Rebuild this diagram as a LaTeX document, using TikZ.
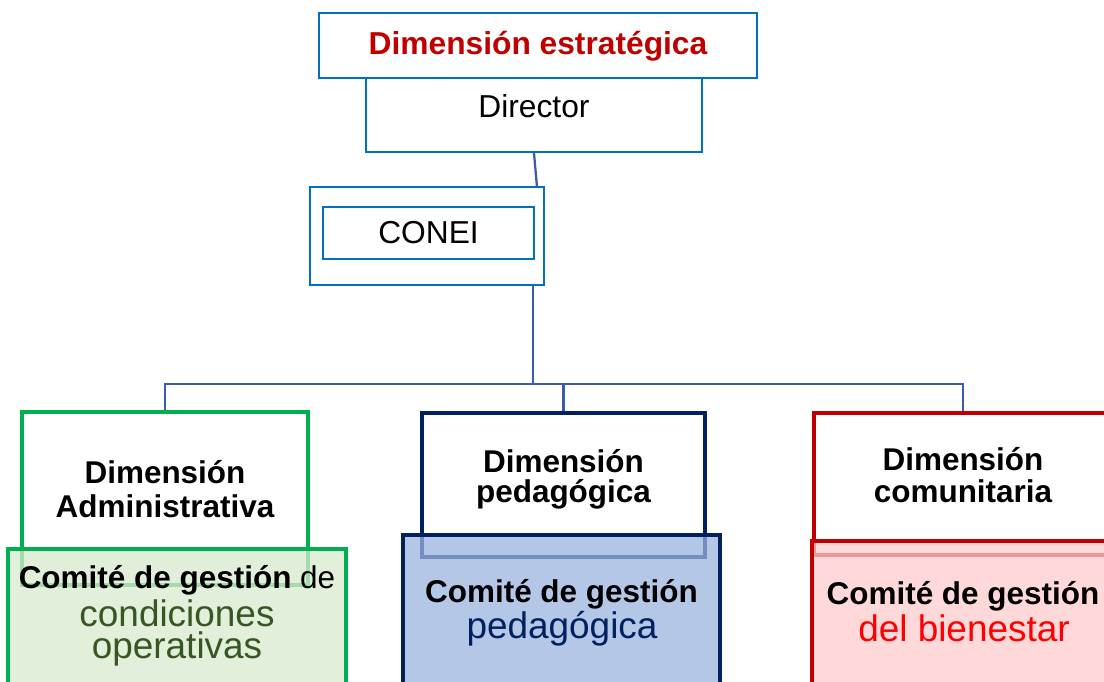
\documentclass[tikz,border=0pt]{standalone}
\usepackage{fontspec}
\setmainfont{Liberation Sans}
\usetikzlibrary{fit}
\definecolor{boxblue}{HTML}{0070C0}
\definecolor{linkblue}{HTML}{3B5DA8}
\definecolor{dimred}{HTML}{C00000}
\definecolor{admgreen}{HTML}{00B050}
\definecolor{admfill}{HTML}{D8EACE}
\definecolor{admtext}{HTML}{375623}
\definecolor{pednavy}{HTML}{002060}
\definecolor{pedfill}{HTML}{9BB4DF}
\definecolor{comfill}{HTML}{FFCCCC}
\definecolor{comtext}{HTML}{FF0000}
\begin{document}
\begin{tikzpicture}[x=0.75pt,y=-0.75pt,
  topbox/.style={draw=boxblue,line width=1.5pt,inner sep=0pt,fill=white},
  dimbox/.style={draw=#1,line width=3.4pt,inner sep=0pt,fill=white},
  combox/.style 2 args={draw=#1,line width=3.4pt,inner sep=0pt,fill=#2,fill opacity=0.75,draw opacity=1},
  link/.style={draw=linkblue,line width=1.7pt},
  bigtxt/.style={anchor=base,inner sep=0pt,font=\fontsize{23.8}{28}\selectfont},
  hdtxt/.style={anchor=base,inner sep=0pt,align=center,font=\fontsize{23.6}{#1}\selectfont\bfseries},
  subtxt/.style 2 args={anchor=base,inner sep=0pt,align=center,text=#2,font=\fontsize{#1}{24}\selectfont}]
\useasboundingbox (0,0) rectangle (1104,682);
\clip (0,0) rectangle (1104,682);
% top boxes
\node[topbox,fit={(319,13)(757,78)}] (est) {};
\node[topbox,fit={(366,78)(702,152)}] (dir) {};
\node[topbox,fit={(310,187)(544,285)}] (conei) {};
\node[topbox,fit={(323,207)(534,259)}] (coneiin) {};
\node[bigtxt,text=dimred,font=\fontsize{23.8}{28}\selectfont\bfseries] (estt) at (538,54) {Dimensión estratégica};
\node[bigtxt] (dirt) at (534,117) {Director};
\node[bigtxt] (coneit) at (428.5,243) {CONEI};
% connectors
\coordinate (c1) at (537,187);
\coordinate (j) at (533,384);
\draw[link] (dir.south) -- (c1);
\draw[link] (conei.south -| j) -- (j);
% bottom upper boxes
\node[dimbox=admgreen,fit={(22,412)(308,585)}] (adm) {};
\node[dimbox=pednavy,fit={(422,413)(705,557)}] (ped) {};
\node[dimbox=dimred,fit={(814,413)(1112,555)}] (com) {};
\draw[link] (adm.north) |- (j);
\draw[link] (ped.north) |- (j);
\draw[link] (com.north) |- (j);
\node[hdtxt=25.5pt] (admt) at (165,517) {Dimensión\\Administrativa};
\node[hdtxt=22.5pt] (pedt) at (563.5,502) {Dimensión\\pedagógica};
\node[hdtxt=24pt] (comt) at (963,502) {Dimensión\\comunitaria};
% bottom lower boxes
\node[combox={admgreen}{admfill},fit={(8,549)(346,700)}] (admc) {};
\node[combox={pednavy}{pedfill},fit={(403,535)(720,700)}] (pedc) {};
\node[combox={dimred}{comfill},fit={(812,541)(1114,700)}] (comc) {};
\node[anchor=base,inner sep=0pt,font=\fontsize{23.6}{28}\selectfont] (admct) at (177,588) {\textbf{Comité de gestión} de};
\node[subtxt={27.7}{admtext}] (admcs) at (177,658) {condiciones\\operativas};
\node[anchor=base,inner sep=0pt,font=\fontsize{23.6}{28}\selectfont\bfseries] (pedct) at (561.5,602) {Comité de gestión};
\node[subtxt={27.7}{pednavy}] (pedcs) at (562,638) {pedagógica};
\node[anchor=base,inner sep=0pt,font=\fontsize{23.6}{28}\selectfont\bfseries] (comct) at (963,604) {Comité de gestión};
\node[subtxt={27.7}{comtext}] (comcs) at (964,641) {del bienestar};
\end{tikzpicture}
\end{document}
